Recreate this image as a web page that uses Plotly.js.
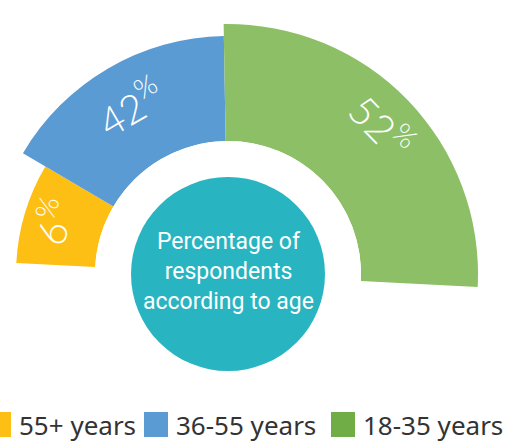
<!DOCTYPE html>
<html>
<head>
<meta charset="utf-8">
<script src="https://cdn.plot.ly/plotly-3.0.1.min.js"></script>
<style>
html, body { margin: 0; padding: 0; overflow: hidden; background: #fff; }
#chart { position: absolute; left: -40px; top: 0; width: 547px; height: 446px; }
</style>
</head>
<body>
<div id="chart"></div>
<script>
var groups = ['55+ years', '36-55 years', '18-35 years'];
var shares = [6, 42, 52];
// the picture does not scale arcs by share, so spans and depths are read off it
var arcFrom = [177, 149.5, 91];
var arcTo = [149.5, 91, -3];
var depth = [79, 105, 117];
var barColors = ['#FDBF14', '#5B9BD3', '#8DBF67'];
var keyColors = ['#FDBF14', '#5B9BD3', '#70AD47'];

var W = 547, H = 446, OFF = 40;
var cx = 228 + OFF, cy = 274, outer = 262, inner = 133;
var px = function (x) { return (x + OFF) / W; };
var py = function (y) { return (H - y) / H; };

var mids = [], spans = [];
for (var i = 0; i < shares.length; i++) {
    mids.push((arcFrom[i] + arcTo[i]) / 2);
    spans.push(arcFrom[i] - arcTo[i]);
}

var data = [{
    type: 'barpolar',
    r: depth,
    theta: mids,
    width: spans,
    text: groups,
    marker: {color: barColors, line: {width: 0}},
    hoverinfo: 'text',
    showlegend: false
}];

// share labels sit along each arc, turned to follow it
var labelR = [183, 194, 214];
var annotations = [];
for (var i = 0; i < shares.length; i++) {
    var a = mids[i] * Math.PI / 180;
    annotations.push({
        x: (cx + labelR[i] * Math.cos(a)) / W,
        y: (H - (cy - labelR[i] * Math.sin(a))) / H,
        xref: 'paper', yref: 'paper',
        xanchor: 'center', yanchor: 'middle',
        text: shares[i] + '<sup>%</sup>',
        textangle: 90 - mids[i],
        showarrow: false,
        font: {family: 'Lato, Roboto, sans-serif', weight: 300, size: 40, color: '#ffffff'}
    });
}

annotations.push({
    x: cx / W, y: (H - cy + 3) / H,
    xref: 'paper', yref: 'paper',
    xanchor: 'center', yanchor: 'middle',
    text: 'Percentage of<br>respondents<br>according to age',
    showarrow: false,
    align: 'center',
    font: {family: 'Roboto, sans-serif', size: 23, color: '#ffffff'}
});

var shapes = [{
    type: 'circle', xref: 'paper', yref: 'paper',
    x0: (cx - 97) / W, x1: (cx + 97) / W,
    y0: (H - cy - 97) / H, y1: (H - cy + 97) / H,
    fillcolor: '#28B5C1', line: {width: 0}
}];

// legend drawn by hand to get the large square keys
var keyX = [-13, 144, 331];
for (var i = 0; i < groups.length; i++) {
    shapes.push({
        type: 'rect', xref: 'paper', yref: 'paper',
        x0: px(keyX[i]), x1: px(keyX[i] + 24),
        y0: py(437), y1: py(412),
        fillcolor: keyColors[i], line: {width: 0}
    });
    annotations.push({
        x: px(keyX[i] + 30), y: py(425),
        xref: 'paper', yref: 'paper',
        xanchor: 'left', yanchor: 'middle',
        text: groups[i],
        showarrow: false,
        font: {family: 'Noto Sans, sans-serif', size: 26, color: '#333333'}
    });
}

var layout = {
    width: W,
    height: H,
    margin: {l: 0, r: 0, t: 0, b: 0},
    paper_bgcolor: '#ffffff',
    showlegend: false,
    polar: {
        domain: {x: [(cx - outer) / W, (cx + outer) / W], y: [py(cy + 0.1736 * outer + 2), py(cy - outer - 2)]},
        sector: [-10, 190],
        hole: inner / outer,
        bgcolor: 'rgba(0,0,0,0)',
        radialaxis: {range: [0, outer - inner], visible: false},
        angularaxis: {visible: false, direction: 'counterclockwise', rotation: 0}
    },
    shapes: shapes,
    annotations: annotations
};

Plotly.newPlot('chart', data, layout, {displayModeBar: false});
</script>
</body>
</html>
